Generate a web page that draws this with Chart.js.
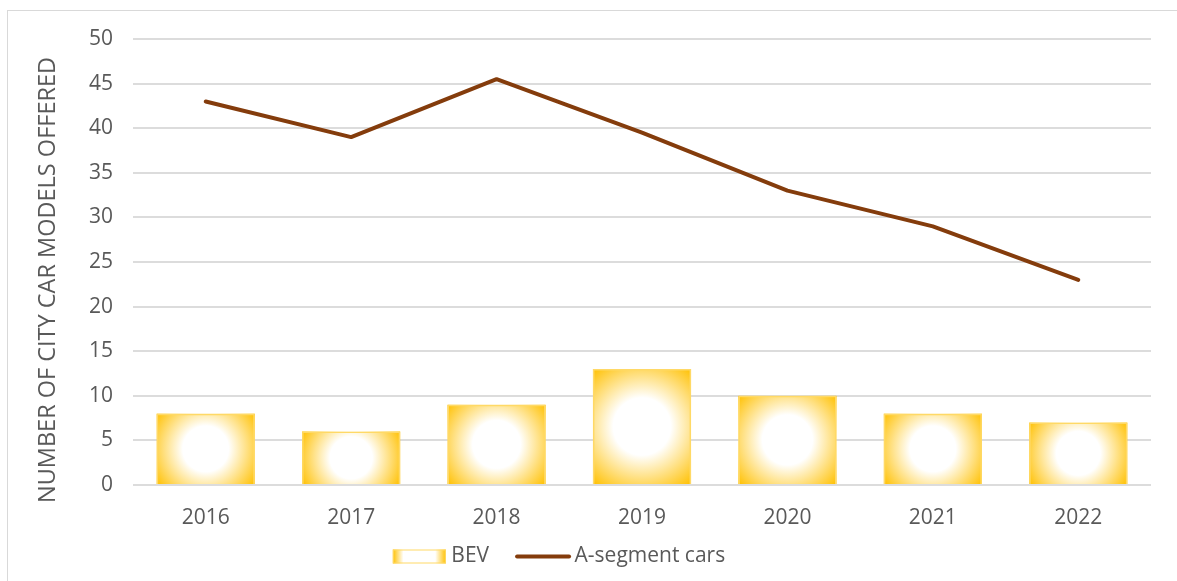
<!DOCTYPE html>
<html>
<head>
<meta charset="utf-8">
<script src="https://cdn.jsdelivr.net/npm/chart.js@4.4.1/dist/chart.umd.min.js"></script>
<style>
  html, body { margin: 0; padding: 0; background: #fff; }
  #chart { display: block; }
</style>
</head>
<body>
<canvas id="chart" width="1177" height="581"></canvas>
<script>
// chart data
const years = ['2016', '2017', '2018', '2019', '2020', '2021', '2022'];
const bevModels = [8, 6, 9, 13, 10, 8, 7];
const aSegmentModels = [43, 39, 45.5, 39.5, 33, 29, 23];
const seriesNames = ['BEV', 'A-segment cars'];
const axisTitle = 'NUMBER OF CITY CAR MODELS OFFERED';

const textGrey = '#595959';
const gold = '#ffc000';
const goldEdge = '#ffd966';
const brown = '#843c0c';

// legend swatch is drawn this far right of the item start
const swatchInset = 17;

// white page and the thin frame round the chart (cut off at right and bottom)
const chartFrame = {
  id: 'chartFrame',
  beforeDraw(chart) {
    const ctx = chart.ctx;
    ctx.save();
    ctx.fillStyle = '#fff';
    ctx.fillRect(0, 0, chart.width, chart.height);
    ctx.strokeStyle = '#d9d9d9';
    ctx.lineWidth = 1;
    ctx.strokeRect(7.5, 10.5, chart.width + 20, chart.height + 20);
    ctx.restore();
  }
};

// gold bars with a white glow in the middle, sized from the bar elements
const barGlow = {
  id: 'barGlow',
  beforeDatasetsDraw(chart) {
    const ctx = chart.ctx;
    const meta = chart.getDatasetMeta(0);
    ctx.save();
    meta.data.forEach(bar => {
      const { x, y, base, width } = bar.getProps(['x', 'y', 'base', 'width'], true);
      const top = Math.min(y, base);
      const h = Math.abs(base - y);
      const cy = top + h / 2;
      const r = Math.hypot(width / 2, h / 2);
      const g = ctx.createRadialGradient(x, cy, 0, x, cy, r);
      g.addColorStop(0, '#ffffff');
      g.addColorStop(0.38, '#ffffff');
      g.addColorStop(1, gold);
      ctx.fillStyle = g;
      ctx.fillRect(x - width / 2, top, width, h);
    });
    ctx.restore();
  }
};

// small layout tweaks + legend swatches drawn by hand
const legendSwatches = {
  id: 'legendSwatches',
  afterLayout(chart) {
    // Excel centres the legend a bit left of the canvas centre
    chart.legend.left -= 25;
    chart.legend.right -= 25;
    chart.legend.top += 2;
    chart.legend.bottom += 2;
    // axis title sits a bit lower than the plot centre in the original
    const yScale = chart.scales.y;
    if (!yScale._titleShifted) {
      const origDrawTitle = yScale.drawTitle;
      yScale.drawTitle = function () {
        this.ctx.save();
        this.ctx.translate(0, 18);
        origDrawTitle.call(this);
        this.ctx.restore();
      };
      yScale._titleShifted = true;
    }
  },
  afterDraw(chart) {
    const ctx = chart.ctx;
    const boxes = chart.legend.legendHitBoxes;
    if (!boxes || boxes.length < 2) return;
    ctx.save();
    const b0 = boxes[0];
    const x0 = b0.left + swatchInset;
    const mid0 = b0.top + b0.height / 2;
    const g = ctx.createLinearGradient(x0, 0, x0 + 53, 0);
    g.addColorStop(0, gold);
    g.addColorStop(0.2, '#ffffff');
    g.addColorStop(0.8, '#ffffff');
    g.addColorStop(1, gold);
    ctx.fillStyle = g;
    ctx.fillRect(x0, mid0 - 7, 53, 14);
    ctx.strokeStyle = goldEdge;
    ctx.lineWidth = 1;
    ctx.strokeRect(x0 + 0.5, mid0 - 6.5, 52, 13);

    const b1 = boxes[1];
    const x1 = b1.left + swatchInset;
    const mid1 = b1.top + b1.height / 2;
    ctx.strokeStyle = brown;
    ctx.lineWidth = 4;
    ctx.lineCap = 'round';
    ctx.beginPath();
    ctx.moveTo(x1 + 1, mid1);
    ctx.lineTo(x1 + 53, mid1);
    ctx.stroke();
    ctx.restore();
  }
};

function createCityCarChart() {
  const ctx = document.getElementById('chart').getContext('2d');

  new Chart(ctx, {
    data: {
      labels: years,
      datasets: [
        {
          type: 'bar',
          label: seriesNames[0],
          data: bevModels,
          backgroundColor: 'rgba(0,0,0,0)',
          borderColor: goldEdge,
          borderWidth: 1.5,
          barPercentage: 0.675,
          categoryPercentage: 1,
          order: 1
        },
        {
          type: 'line',
          label: seriesNames[1],
          data: aSegmentModels,
          borderColor: brown,
          borderWidth: 4,
          borderCapStyle: 'round',
          borderJoinStyle: 'round',
          pointRadius: 0,
          tension: 0,
          fill: false,
          order: 0
        }
      ]
    },
    options: {
      responsive: false,
      animation: false,
      devicePixelRatio: 1,
      layout: {
        padding: { left: 0, right: 26, top: 39, bottom: 6 }
      },
      font: { family: '"Open Sans", sans-serif' },
      scales: {
        x: {
          grid: { display: false },
          border: { display: false },
          ticks: {
            color: textGrey,
            padding: 12,
            font: { family: '"Open Sans", sans-serif', size: 21 }
          },
          afterFit(scale) { scale.height = 49; }
        },
        y: {
          min: 0,
          max: 50,
          border: { display: false },
          grid: { color: '#dcdcdc', lineWidth: 2, drawTicks: false },
          ticks: {
            stepSize: 5,
            color: textGrey,
            padding: 20,
            font: { family: '"Open Sans", sans-serif', size: 21 }
          },
          title: {
            display: true,
            text: axisTitle,
            color: textGrey,
            padding: { top: 34, bottom: 0 },
            font: { family: '"Open Sans", sans-serif', size: 23.5 }
          },
          afterFit(scale) { scale.width = 133; }
        }
      },
      plugins: {
        legend: {
          position: 'bottom',
          labels: {
            color: textGrey,
            boxWidth: 48 + swatchInset,
            boxHeight: 14,
            padding: 10,
            font: { family: '"Open Sans", sans-serif', size: 21 },
            generateLabels(chart) {
              return chart.data.datasets.map((ds, i) => ({
                text: ds.label,
                fillStyle: 'rgba(0,0,0,0)',
                strokeStyle: 'rgba(0,0,0,0)',
                lineWidth: 0,
                fontColor: textGrey,
                hidden: false,
                datasetIndex: i
              }));
            }
          }
        },
        tooltip: { enabled: false }
      }
    },
    plugins: [chartFrame, barGlow, legendSwatches]
  });
}

createCityCarChart();
</script>
</body>
</html>
